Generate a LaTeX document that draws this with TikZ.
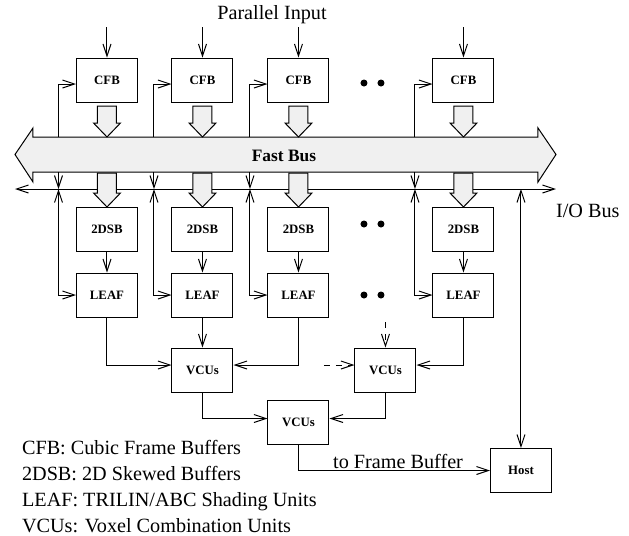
\documentclass[tikz,border=0pt]{standalone}
\usepackage{fontspec}
\setmainfont{Liberation Serif}
\usepackage{tikz}
\tikzset{
    unit/.style={draw, line width=0.5pt, minimum width=30.5pt, minimum height=22pt,
                 inner sep=0pt, font=\fontsize{6.4}{7}\selectfont\bfseries},
    wire/.style={line width=0.5pt},
    flow/.style={wire, -{Straight Barb[length=6pt,width=4pt]}},
    biflow/.style={wire, {Straight Barb[length=6pt,width=4pt]}-{Straight Barb[length=6pt,width=4pt]}},
    fat/.style={draw, line width=0.5pt, fill=black!6, line join=miter},
    txt/.style={font=\fontsize{10.1}{13}\selectfont},
    dot/.style={circle, fill, inner sep=0pt, minimum size=3.5pt} }
\usetikzlibrary{calc, arrows.meta}
% hollow block arrow: x, top, tip
\newcommand{\fatarrow}[3]{%
    \filldraw[fat] (#1-9.5,#2) -- (#1+9.5,#2) -- (#1+9.5,#3-14) -- (#1+13.5,#3-14) --
        (#1,#3) -- (#1-13.5,#3-14) -- (#1-9.5,#3-14) -- cycle;}

\begin{document}
\begin{tikzpicture}[x=0.5pt, y=-0.5pt]
      \useasboundingbox (0,0) rectangle (629,536);
      % ---- fast bus
      \filldraw[fat] (15,154.5) -- (33,128) -- (33,137) -- (538,137) -- (538,128) --
          (556,154.5) -- (538,182) -- (538,172) -- (33,172) -- (33,182) -- cycle;
      \node[font=\fontsize{8.7}{10}\selectfont\bfseries] (fast) at (284,156) {Fast Bus};
      % ---- i/o bus
      \coordinate (io west) at (15,189);
      \coordinate (io east) at (556,189);
      \draw[biflow] (io west) -- (io east);
      \node[txt, anchor=west] (iobus) at (549,211) {I/O Bus};
      \node[txt] (input) at (272,15) {Parallel Input};
      % ---- columns
      \foreach \x/\n in {107/1, 202.5/2, 298.5/3, 463.5/4} {
          \node[unit] (cfb\n) at (\x,80) {CFB};
          \node[unit] (dsb\n) at (\x,229) {2DSB};
          \node[unit] (leaf\n) at (\x,295) {LEAF};
          \coordinate (in\n) at (\x,27);
          \coordinate (up\n) at (\x-48.5,137);
          \coordinate (down\n) at (\x-48.5,172);
          \coordinate (io\n) at (\x-48.5,189);
          \draw[flow] (in\n) -- (cfb\n);
          \draw[flow] (dsb\n) -- (leaf\n);
          \draw[flow] (up\n) |- ([yshift=-2pt]cfb\n.west);
          \draw[flow] (down\n) -- (io\n);
          \draw[biflow] (io\n) |- (leaf\n.west);
          \fatarrow{\x}{106}{137}
          \fatarrow{\x}{173}{207}
      }
      % ---- more columns
      \foreach \y in {83, 224, 295} {
          \node[dot] at (364,\y) {};
          \node[dot] at (381,\y) {};
      }
      % ---- combination tree
      \node[unit] (vcu1) at (202.5,370) {VCUs};
      \node[unit] (vcu2) at (385.5,370) {VCUs};
      \node[unit] (vcu3) at (298.5,422.5) {VCUs};
      \node[unit] (host) at (521,470.5) {Host};
      \draw[flow] (leaf1) |- ([yshift=2.5pt]vcu1.west);
      \draw[flow] (leaf2) -- (vcu1);
      \draw[flow] (leaf3) |- ([yshift=2.5pt]vcu1.east);
      \draw[flow] (leaf4) |- ([yshift=2.5pt]vcu2.east);
      \coordinate (more above) at (385.5,322);
      \coordinate (more left) at (324,365);
      \draw[flow, dashed] (more above) -- (vcu2);
      \draw[flow, dashed] (more left) -- ([yshift=2.5pt]vcu2.west);
      \draw[flow] (vcu1) |- ([yshift=2pt]vcu3.west);
      \draw[flow] (vcu2) |- ([yshift=2pt]vcu3.east);
      \draw[flow] (vcu3) |- node[txt, pos=0.76, above, inner sep=0.5pt] (fb) {to Frame Buffer} (host.west);
      \coordinate (host tap) at (521,189);
      \draw[biflow] (host tap) -- (host);
      % ---- legend
      \node[txt, align=left, anchor=west] (legend) at (15,487)
          {CFB: Cubic Frame Buffers\\ 2DSB: 2D Skewed Buffers\\
           LEAF: TRILIN/ABC Shading Units\\ VCUs: Voxel Combination Units};
\end{tikzpicture}
\end{document}
